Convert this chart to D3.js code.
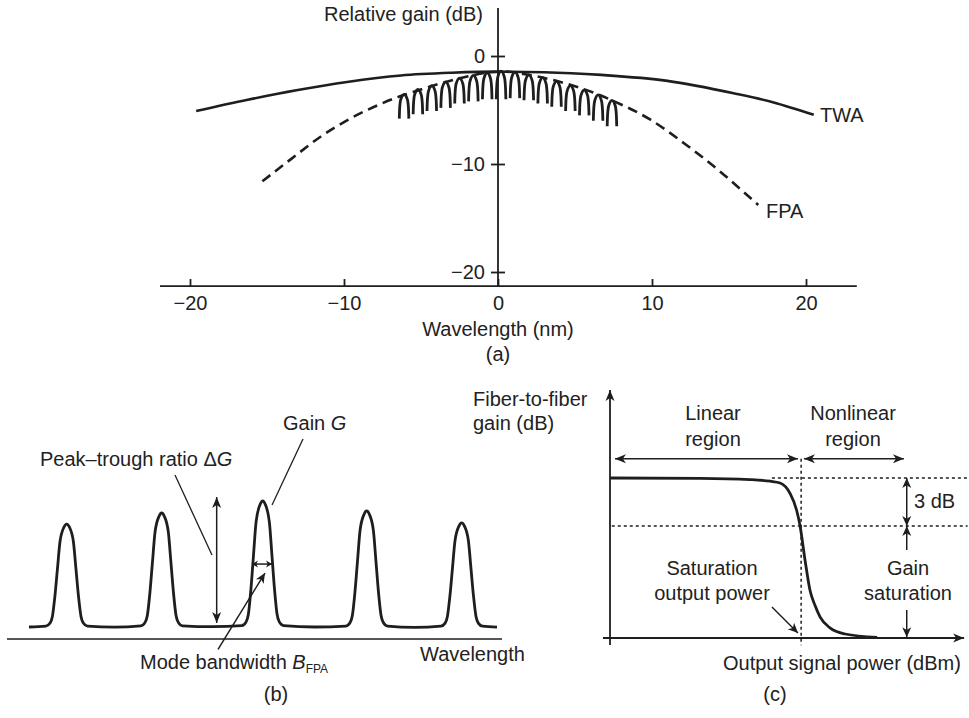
<!DOCTYPE html>
<html><head><meta charset="utf-8">
<script src="https://cdn.jsdelivr.net/npm/d3@7"></script>
<style>
body{margin:0;background:#fff}
svg text{font-family:"Liberation Sans",Arial,sans-serif;font-size:20px;fill:#222}
</style></head><body>
<svg id="fig" width="969" height="718"></svg>
<script>
// ---------- Panel (a) data ----------
const xTicksA = [-20, -10, 0, 10, 20];
const yTicksA = [0, -10, -20];
const twaX = [-19.6, -16.25, -13, -9.8, -6.3, -3, 0, 3, 6.7, 11, 15.3, 17.9, 20.5];
const twaY = [-5.1, -4.05, -3.15, -2.4, -1.8, -1.55, -1.45, -1.5, -1.75, -2.3, -3.45, -4.3, -5.45];
const fpaX = [-15.3, -13.4, -11.5, -9.6, -7.8, -6.4, -5, -3.5, -2, -0.5, 0.5, 2, 3.5, 5, 6.5, 7.55, 9.9, 12.1, 14.3, 15.8, 16.9];
const fpaY = [-11.6, -9.5, -7.45, -5.8, -4.55, -3.75, -3.1, -2.45, -1.9, -1.5, -1.45, -1.75, -2.2, -2.8, -3.55, -4.2, -5.9, -8.1, -10.55, -12.4, -13.8];
const archX = [-6.1, -5.2, -4.3, -3.4, -2.5, -1.6, -0.7, 0.2, 1.1, 2.0, 2.9, 3.8, 4.7, 5.6, 6.5, 7.4];
const archTop = [-3.55, -3.1, -2.75, -2.4, -2.05, -1.8, -1.55, -1.4, -1.5, -1.75, -2.0, -2.35, -2.75, -3.15, -3.6, -4.1];
const archBottom = [-5.8, -5.4, -5.1, -4.8, -4.4, -4.2, -4.0, -4.0, -3.9, -4.1, -4.4, -4.7, -5.1, -5.5, -6.0, -6.5];

// ---------- Panel (b) data ----------
const peakX = [12.06, 31.25, 51.66, 72.67, 91.86];
const peakG = [8.33, 9.13, 10.0, 9.28, 8.41];
const troughX = [4.44, 21.7, 41.5, 62.2, 82.3, 99];
const troughG = [0.87, 0.86, 0.89, 0.87, 0.84, 0.86];
const profileFrac = [0.01, 0.04, 0.1, 0.3, 0.56, 0.83, 0.97];
const profileHalf = [4.2, 3.35, 2.9, 2.38, 1.88, 1.35, 0.55];

// ---------- Panel (c) data ----------
const satX = [0, 25.6, 39.8, 45.5, 48.3, 51.1, 53.0, 54.0, 55.4, 56.8, 58.2, 59.7, 62.5, 66.8, 75.9];
const satG = [10.0, 9.98, 9.9, 9.8, 9.69, 9.06, 8.0, 7.0, 4.88, 3.0, 2.06, 1.31, 0.63, 0.25, 0.03];
const satFlat = 10, sat3dB = 7, satPoint = 54.3;

const INK = "#1e1e1e";
const svg = d3.select("#fig");

function arrowHead(g, x, y, ang, L = 10, W = 4) {
  const c = Math.cos(ang), s = Math.sin(ang);
  const pt = (u, v) => [x + u * c - v * s, y + u * s + v * c];
  const pts = [pt(0, 0), pt(-L, -W), pt(-L * 0.72, 0), pt(-L, W)];
  g.append("path").attr("d", "M" + pts.map(p => p.join(",")).join("L") + "Z").attr("fill", INK);
}
function arrow(g, x1, y1, x2, y2, both, sw = 1.5, L = 10, W = 4) {
  const ang = Math.atan2(y2 - y1, x2 - x1);
  g.append("line").attr("x1", x1).attr("y1", y1).attr("x2", x2).attr("y2", y2)
    .attr("stroke", INK).attr("stroke-width", sw);
  arrowHead(g, x2, y2, ang, L, W);
  if (both) arrowHead(g, x1, y1, ang + Math.PI, L, W);
}

// ================= Panel (a) =================
const xA = d3.scaleLinear([-20, 20], [190, 806]);
const yA = d3.scaleLinear([0, -20], [56, 272]);
const gA = svg.append("g").style("color", INK);
const axisYVal = -21.3;
gA.append("line").attr("x1", xA(-21.95)).attr("x2", xA(23.3)).attr("y1", yA(axisYVal)).attr("y2", yA(axisYVal))
  .attr("stroke", INK).attr("stroke-width", 1.8);
const fmt = d => (d < 0 ? "\u2212" + Math.abs(d) : String(d));
const ax = gA.append("g").attr("transform", `translate(0,${yA(axisYVal)})`)
  .call(d3.axisBottom(xA).tickValues(xTicksA).tickSizeInner(-7).tickSizeOuter(0).tickPadding(10).tickFormat(fmt));
ax.select(".domain").remove();
ax.selectAll("line").attr("stroke-width", 1.8);
gA.append("line").attr("x1", xA(0)).attr("x2", xA(0)).attr("y1", yA(4.45)).attr("y2", yA(axisYVal))
  .attr("stroke", INK).attr("stroke-width", 1.8);
const ay = gA.append("g").attr("transform", `translate(${xA(0)},0)`)
  .call(d3.axisLeft(yA).tickValues(yTicksA).tickSizeInner(7).tickSizeOuter(0).tickPadding(6).tickFormat(fmt));
ay.select(".domain").remove();
ay.selectAll("line").attr("stroke-width", 1.8);
const ay2 = gA.append("g").attr("transform", `translate(${xA(0)},0)`)
  .call(d3.axisRight(yA).tickValues(yTicksA).tickSizeInner(7).tickSizeOuter(0).tickFormat(""));
ay2.select(".domain").remove();
ay2.selectAll("line").attr("stroke-width", 1.8);

const lineA = d3.line().x(d => xA(d[0])).y(d => yA(d[1])).curve(d3.curveMonotoneX);
gA.append("path").attr("d", lineA(d3.zip(twaX, twaY))).attr("fill", "none")
  .attr("stroke", INK).attr("stroke-width", 2.6);
gA.append("path").attr("d", lineA(d3.zip(fpaX, fpaY))).attr("fill", "none")
  .attr("stroke", INK).attr("stroke-width", 2.6).attr("stroke-dasharray", "10,6");
const archHalf = 0.31;
archX.forEach((c, i) => {
  const t = archTop[i], b = archBottom[i], d = t - b;
  const pts = [[c - archHalf, b], [c - archHalf * 0.93, t - 0.6 * d], [c - archHalf * 0.7, t - 0.22 * d], [c, t],
               [c + archHalf * 0.7, t - 0.22 * d], [c + archHalf * 0.93, t - 0.6 * d], [c + archHalf, b]];
  gA.append("path").attr("d", lineA(pts)).attr("fill", "none").attr("stroke", INK).attr("stroke-width", 2.8);
});
gA.append("text").attr("x", 483).attr("y", 21).attr("text-anchor", "end").text("Relative gain (dB)");
gA.append("text").attr("x", xA(0)).attr("y", 336).attr("text-anchor", "middle").text("Wavelength (nm)");
gA.append("text").attr("x", xA(0)).attr("y", 361).attr("text-anchor", "middle").text("(a)");
gA.append("text").attr("x", 820).attr("y", 122).text("TWA");
gA.append("text").attr("x", 766).attr("y", 218).text("FPA");

// ================= Panel (b) =================
const xB = d3.scaleLinear([0, 100], [7, 502]);
const yB = d3.scaleLinear([0, 10], [639, 501]);
const gB = svg.append("g");
gB.append("line").attr("x1", xB(0)).attr("x2", xB(100)).attr("y1", yB(0)).attr("y2", yB(0))
  .attr("stroke", INK).attr("stroke-width", 1.6);
let ptsB = troughX.map((x, i) => [x, troughG[i]]);
peakX.forEach((c, i) => {
  const base = (troughG[i] + troughG[i + 1]) / 2, h = peakG[i] - base;
  profileFrac.forEach((f, k) => {
    ptsB.push([c - profileHalf[k], base + f * h]);
    ptsB.push([c + profileHalf[k], base + f * h]);
  });
  ptsB.push([c, peakG[i]]);
});
ptsB.sort((a, b) => a[0] - b[0]);
const lineB = d3.line().x(d => xB(d[0])).y(d => yB(d[1])).curve(d3.curveMonotoneX);
gB.append("path").attr("d", lineB(ptsB)).attr("fill", "none").attr("stroke", INK).attr("stroke-width", 2.8);
arrow(gB, xB(42.36), yB(1.16), xB(42.36), yB(10.29), true, 1.5, 11, 4.5);
gB.append("line").attr("x1", xB(33.94)).attr("y1", yB(11.88)).attr("x2", xB(41.41)).attr("y2", yB(6.09))
  .attr("stroke", INK).attr("stroke-width", 1.3);
gB.append("line").attr("x1", xB(59.8)).attr("y1", yB(14.49)).attr("x2", xB(53.54)).attr("y2", yB(9.71))
  .attr("stroke", INK).attr("stroke-width", 1.3);
arrow(gB, xB(49.49), yB(5.43), xB(53.54), yB(5.43), true, 1.5, 6, 3.5);
arrow(gB, xB(42.63), yB(-0.75), xB(52.12), yB(4.78), false, 1.5, 10, 4.5);

gB.append("text").attr("x", 283).attr("y", 430).html('Gain <tspan font-style="italic">G</tspan>');
gB.append("text").attr("x", 40).attr("y", 466).html('Peak\u2013trough ratio \u0394<tspan font-style="italic">G</tspan>');
gB.append("text").attr("x", 140).attr("y", 669)
  .html('Mode bandwidth <tspan font-style="italic">B</tspan><tspan dy="4" style="font-size:12px">FPA</tspan>');
gB.append("text").attr("x", 420).attr("y", 661).text("Wavelength");
gB.append("text").attr("x", 276).attr("y", 701).attr("text-anchor", "middle").text("(b)");

// ================= Panel (c) =================
const xC = d3.scaleLinear([0, 100], [610, 962]);
const yC = d3.scaleLinear([0, 10], [638, 478]);
const gC = svg.append("g");
arrow(gC, xC(0), yC(-0.44), xC(0), yC(15.5), false, 1.8, 11, 4.5);
arrow(gC, xC(-2), yC(0), xC(100.6), yC(0), false, 1.8, 11, 4.5);
const dot = "3,3";
gC.append("line").attr("x1", xC(46)).attr("x2", xC(101.6)).attr("y1", yC(satFlat)).attr("y2", yC(satFlat))
  .attr("stroke", INK).attr("stroke-width", 1.5).attr("stroke-dasharray", dot);
gC.append("line").attr("x1", xC(0.5)).attr("x2", xC(101.6)).attr("y1", yC(sat3dB)).attr("y2", yC(sat3dB))
  .attr("stroke", INK).attr("stroke-width", 1.5).attr("stroke-dasharray", dot);
gC.append("line").attr("x1", xC(satPoint)).attr("x2", xC(satPoint)).attr("y1", yC(11.2)).attr("y2", yC(-0.45))
  .attr("stroke", INK).attr("stroke-width", 1.5).attr("stroke-dasharray", dot);
const lineC = d3.line().x(d => xC(d[0])).y(d => yC(d[1])).curve(d3.curveMonotoneX);
gC.append("path").attr("d", lineC(d3.zip(satX, satG))).attr("fill", "none").attr("stroke", INK).attr("stroke-width", 2.8);
arrow(gC, xC(1.4), yC(11.2), xC(53.4), yC(11.2), true, 1.5, 11, 4.5);
arrow(gC, xC(55.1), yC(11.2), xC(83.5), yC(11.2), true, 1.5, 11, 4.5);
arrow(gC, xC(84.3), yC(satFlat), xC(84.3), yC(sat3dB), true, 1.5, 10, 4.5);
arrow(gC, xC(84.3), yC(5.5), xC(84.3), yC(sat3dB), false, 1.5, 10, 4.5);
arrow(gC, xC(84.3), yC(1.75), xC(84.3), yC(0.05), false, 1.5, 10, 4.5);
arrow(gC, xC(46.0), yC(1.94), xC(53.4), yC(0.31), false, 1.4, 10, 4.5);
gC.append("text").attr("x", 473).attr("y", 406).text("Fiber-to-fiber");
gC.append("text").attr("x", 473).attr("y", 430).text("gain (dB)");
gC.append("text").attr("x", 713).attr("y", 420).attr("text-anchor", "middle").text("Linear");
gC.append("text").attr("x", 713).attr("y", 446).attr("text-anchor", "middle").text("region");
gC.append("text").attr("x", 853).attr("y", 420).attr("text-anchor", "middle").text("Nonlinear");
gC.append("text").attr("x", 853).attr("y", 446).attr("text-anchor", "middle").text("region");
gC.append("text").attr("x", 914).attr("y", 508).text("3 dB");
gC.append("text").attr("x", 908).attr("y", 575).attr("text-anchor", "middle").text("Gain");
gC.append("text").attr("x", 908).attr("y", 600).attr("text-anchor", "middle").text("saturation");
gC.append("text").attr("x", 712).attr("y", 575).attr("text-anchor", "middle").text("Saturation");
gC.append("text").attr("x", 712).attr("y", 600).attr("text-anchor", "middle").text("output power");
gC.append("text").attr("x", 723).attr("y", 670).text("Output signal power (dBm)");
gC.append("text").attr("x", 775).attr("y", 701).attr("text-anchor", "middle").text("(c)");
</script>
</body></html>
